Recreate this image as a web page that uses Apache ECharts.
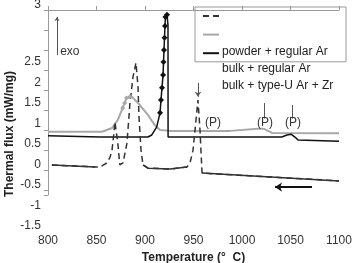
<!DOCTYPE html>
<html>
<head>
<meta charset="utf-8">
<script src="https://cdn.jsdelivr.net/npm/echarts@6/dist/echarts.min.js"></script>
<style>
  html, body { margin: 0; padding: 0; background: #fff; }
  #chart { width: 354px; height: 263px; }
</style>
</head>
<body>
<div id="chart"></div>
<script>
// temperature (°C) / thermal flux (mW/mg)
const dashT = [804, 848.5, 853.6, 860.8, 864, 866, 868, 869, 870, 872, 874, 877.3, 881.4, 884.5, 887.6, 890.7, 892.8, 893.8, 895.9, 897.9, 903, 925.8, 943.3, 946.4, 949.5, 952.6, 954.6, 955.7, 956.7, 958.8, 959.8, 1100]
const dashV = [-0.01, -0.06, -0.06, 0.04, 0.18, 0.35, 0.77, 1.04, 1.04, 0.52, -0.01, 0.04, 0.52, 1.50, 2.13, 2.48, 1.89, 1.16, 0.35, -0.01, -0.09, -0.11, -0.06, 0.04, 0.35, 1.09, 1.57, 1.57, 0.84, -0.21, -0.21, -0.40]
// parts of the dashed curve that look solid in the original
const dashSolidRanges = [[804, 848.5], [897.9, 943.3], [958.8, 1100]]

const grayT = [800, 855.7, 866, 872, 877, 879, 881, 884.5, 886.6, 892.8, 903, 910, 915.5, 925.8, 987.6, 1016.5, 1022.7, 1031, 1100]
const grayV = [0.80, 0.80, 0.89, 1.09, 1.38, 1.50, 1.62, 1.65, 1.65, 1.50, 1.21, 0.96, 0.84, 0.82, 0.82, 0.87, 0.87, 0.77, 0.76]
const grayMarkerT = [877, 879, 881, 884.5]

const blackT = [800, 853.6, 903, 907, 912, 915.5, 916.5, 917.5, 918.6, 919.1, 919.6, 920.1, 920.6, 921.1, 922.7, 923.7, 923.8, 1041, 1046.4, 1050.5, 1054.6, 1057.7, 1100]
const blackV = [0.70, 0.67, 0.67, 0.72, 0.91, 1.26, 1.57, 1.87, 2.18, 2.50, 2.79, 3.09, 3.38, 3.60, 3.65, 3.40, 0.67, 0.67, 0.72, 0.74, 0.67, 0.60, 0.57]

const seriesNames = ['powder + regular Ar', 'bulk + regular Ar', 'bulk + type-U Ar + Zr']
const xTicks = { min: 800, max: 1100, step: 50 }
const yTicks = { min: -1.5, max: 3.89, step: 0.5 }

// annotation positions (data coords)
const exoArrow = [[809.3, 2.67], [809.3, 3.60]]
const exoLabel = [812, 2.74]
const peakArrow = [[954.6, 1.99], [954.6, 1.65]]
const pLines = [[[1022.7, 1.50], [1022.7, 1.12]], [[1051.5, 1.45], [1051.5, 1.12]]]
const pLabels = [[970.1, 1.01], [1023.7, 1.01], [1052.6, 1.01]]
const coolArrow = [[1072.2, -0.55], [1034, -0.55]]

const FONT = 'Liberation Sans, Arial, sans-serif'

function pairs(xs, ys) {
  return xs.map((x, i) => [x, ys[i]])
}

const dashData = pairs(dashT, dashV)
const dashSolid = dashData.map(p => dashSolidRanges.some(r => p[0] >= r[0] && p[0] <= r[1]) ? p : [p[0], null])

const grayData = pairs(grayT, grayV).map(p => grayMarkerT.includes(p[0])
  ? { value: p, symbol: 'diamond', symbolSize: 5 } : p)

const blackData = pairs(blackT, blackV).map((p, i) => (p[1] > 1.2 && i < 15)
  ? { value: p, symbol: 'diamond', symbolSize: 6 } : p)

const chart = echarts.init(document.getElementById('chart'))

const option = {
  animation: false,
  textStyle: { fontFamily: FONT },
  grid: [
    { left: 48, right: 15, top: 10, height: 185, outerBoundsMode: 'none' },
    { left: 48, right: 15, top: 5, height: 221, outerBoundsMode: 'none' },
    // only carries the y axis title, centred lower like the original
    { left: 48, right: 15, top: 40, height: 188, outerBoundsMode: 'none' }
  ],
  xAxis: [
    {
      gridIndex: 0,
      type: 'value',
      min: xTicks.min,
      max: xTicks.max,
      interval: xTicks.step,
      axisLine: { lineStyle: { color: '#9a9a9a' } },
      axisTick: { inside: true, length: 4, lineStyle: { color: '#9a9a9a' } },
      axisLabel: { margin: 40, fontSize: 12, color: '#333', fontFamily: FONT, formatter: v => String(v) },
      splitLine: { show: false },
      name: 'Temperature (°  C)',
      nameLocation: 'middle',
      nameGap: 56,
      nameTextStyle: { fontSize: 12, fontWeight: 'bold', color: '#222', fontFamily: FONT }
    },
    { gridIndex: 1, type: 'value', min: xTicks.min, max: xTicks.max, show: false },
    { gridIndex: 2, type: 'value', min: 0, max: 1, show: false }
  ],
  yAxis: [
    {
      // plain frame axis with ~20px ticks, no labels
      gridIndex: 0,
      type: 'value',
      min: 0,
      max: 9.25,
      interval: 1,
      inverse: true,
      axisLine: { show: true, lineStyle: { color: '#9a9a9a' } },
      axisTick: { show: true, length: 4, lineStyle: { color: '#9a9a9a' } },
      axisLabel: { show: false },
      splitLine: { show: false }
    },
    {
      gridIndex: 1,
      type: 'value',
      min: yTicks.min,
      max: yTicks.max,
      interval: yTicks.step,
      axisLine: { show: false },
      axisTick: { show: false },
      splitLine: { show: false },
      axisLabel: {
        margin: 7,
        fontSize: 12,
        color: '#333',
        fontFamily: FONT,
        showMaxLabel: true,
        formatter: v => v > 3.6 ? '3' : (v > 2.75 ? '' : String(v))
      }
    },
    {
      gridIndex: 2,
      type: 'value',
      min: 0,
      max: 1,
      axisLine: { show: false },
      axisTick: { show: false },
      axisLabel: { show: false },
      splitLine: { show: false },
      name: 'Thermal flux (mW/mg)',
      nameLocation: 'middle',
      nameGap: 32,
      nameTextStyle: { fontSize: 12, fontWeight: 'bold', color: '#222', fontFamily: FONT }
    }
  ],
  legend: [
    {
      data: seriesNames,
      orient: 'vertical',
      left: 195,
      top: 7,
      itemWidth: 16,
      itemHeight: 14,
      itemGap: 6,
      padding: [2, 126, 3, 7],
      borderColor: '#999',
      borderWidth: 1,
      selectedMode: false,
      itemStyle: { opacity: 0 },
      formatter: () => ''
    },
    {
      data: seriesNames,
      orient: 'vertical',
      left: 200,
      top: 46,
      itemWidth: 17,
      itemHeight: 12,
      itemGap: 5,
      padding: 0,
      icon: 'rect',
      itemStyle: { color: 'rgba(0,0,0,0)', borderWidth: 0 },
      selectedMode: false,
      textStyle: { fontSize: 12, color: '#222', fontFamily: FONT }
    }
  ],
  series: [
    {
      name: seriesNames[1],
      type: 'line',
      xAxisIndex: 1,
      yAxisIndex: 1,
      data: grayData,
      symbol: 'none',
      itemStyle: { color: '#a8a8a8' },
      lineStyle: { color: '#a8a8a8', width: 2 }
    },
    {
      name: seriesNames[2],
      type: 'line',
      xAxisIndex: 1,
      yAxisIndex: 1,
      data: blackData,
      symbol: 'none',
      itemStyle: { color: '#111' },
      lineStyle: { color: '#111', width: 1.5 }
    },
    {
      name: seriesNames[0],
      type: 'line',
      xAxisIndex: 1,
      yAxisIndex: 1,
      data: dashData,
      symbol: 'none',
      itemStyle: { color: '#333' },
      lineStyle: { color: '#333', width: 1.5, type: [6, 4] }
    },
    {
      name: 'dash-solid',
      type: 'line',
      xAxisIndex: 1,
      yAxisIndex: 1,
      data: dashSolid,
      symbol: 'none',
      silent: true,
      lineStyle: { color: '#333', width: 1.5 }
    },
    {
      name: 'notes',
      type: 'line',
      xAxisIndex: 1,
      yAxisIndex: 1,
      data: [],
      silent: true,
      markLine: {
        silent: true,
        animation: false,
        label: { show: false },
        symbol: ['none', 'none'],
        lineStyle: { type: 'solid', color: '#555', width: 1 },
        data: [
          [{ coord: exoArrow[0] }, { coord: exoArrow[1], symbol: 'arrow', symbolSize: 4 }],
          [{ coord: peakArrow[0] }, { coord: peakArrow[1], symbol: 'arrow', symbolSize: 5 }],
          [{ coord: pLines[0][0] }, { coord: pLines[0][1] }],
          [{ coord: pLines[1][0] }, { coord: pLines[1][1] }],
          [{ coord: coolArrow[0], lineStyle: { color: '#111', width: 2 } },
           { coord: coolArrow[1], symbol: 'arrow', symbolSize: 7 }]
        ]
      },
      markPoint: {
        silent: true,
        animation: false,
        symbol: 'circle',
        symbolSize: 1,
        itemStyle: { color: 'rgba(0,0,0,0)' },
        label: { show: true, color: '#333', fontSize: 12, fontFamily: FONT, position: 'inside' },
        data: [
          { coord: exoLabel, label: { formatter: 'exo', position: 'right', distance: 0 } },
          ...pLabels.map(c => ({ coord: c, label: { formatter: '(P)' } }))
        ]
      }
    }
  ]
}

chart.setOption(option)
</script>
</body>
</html>
